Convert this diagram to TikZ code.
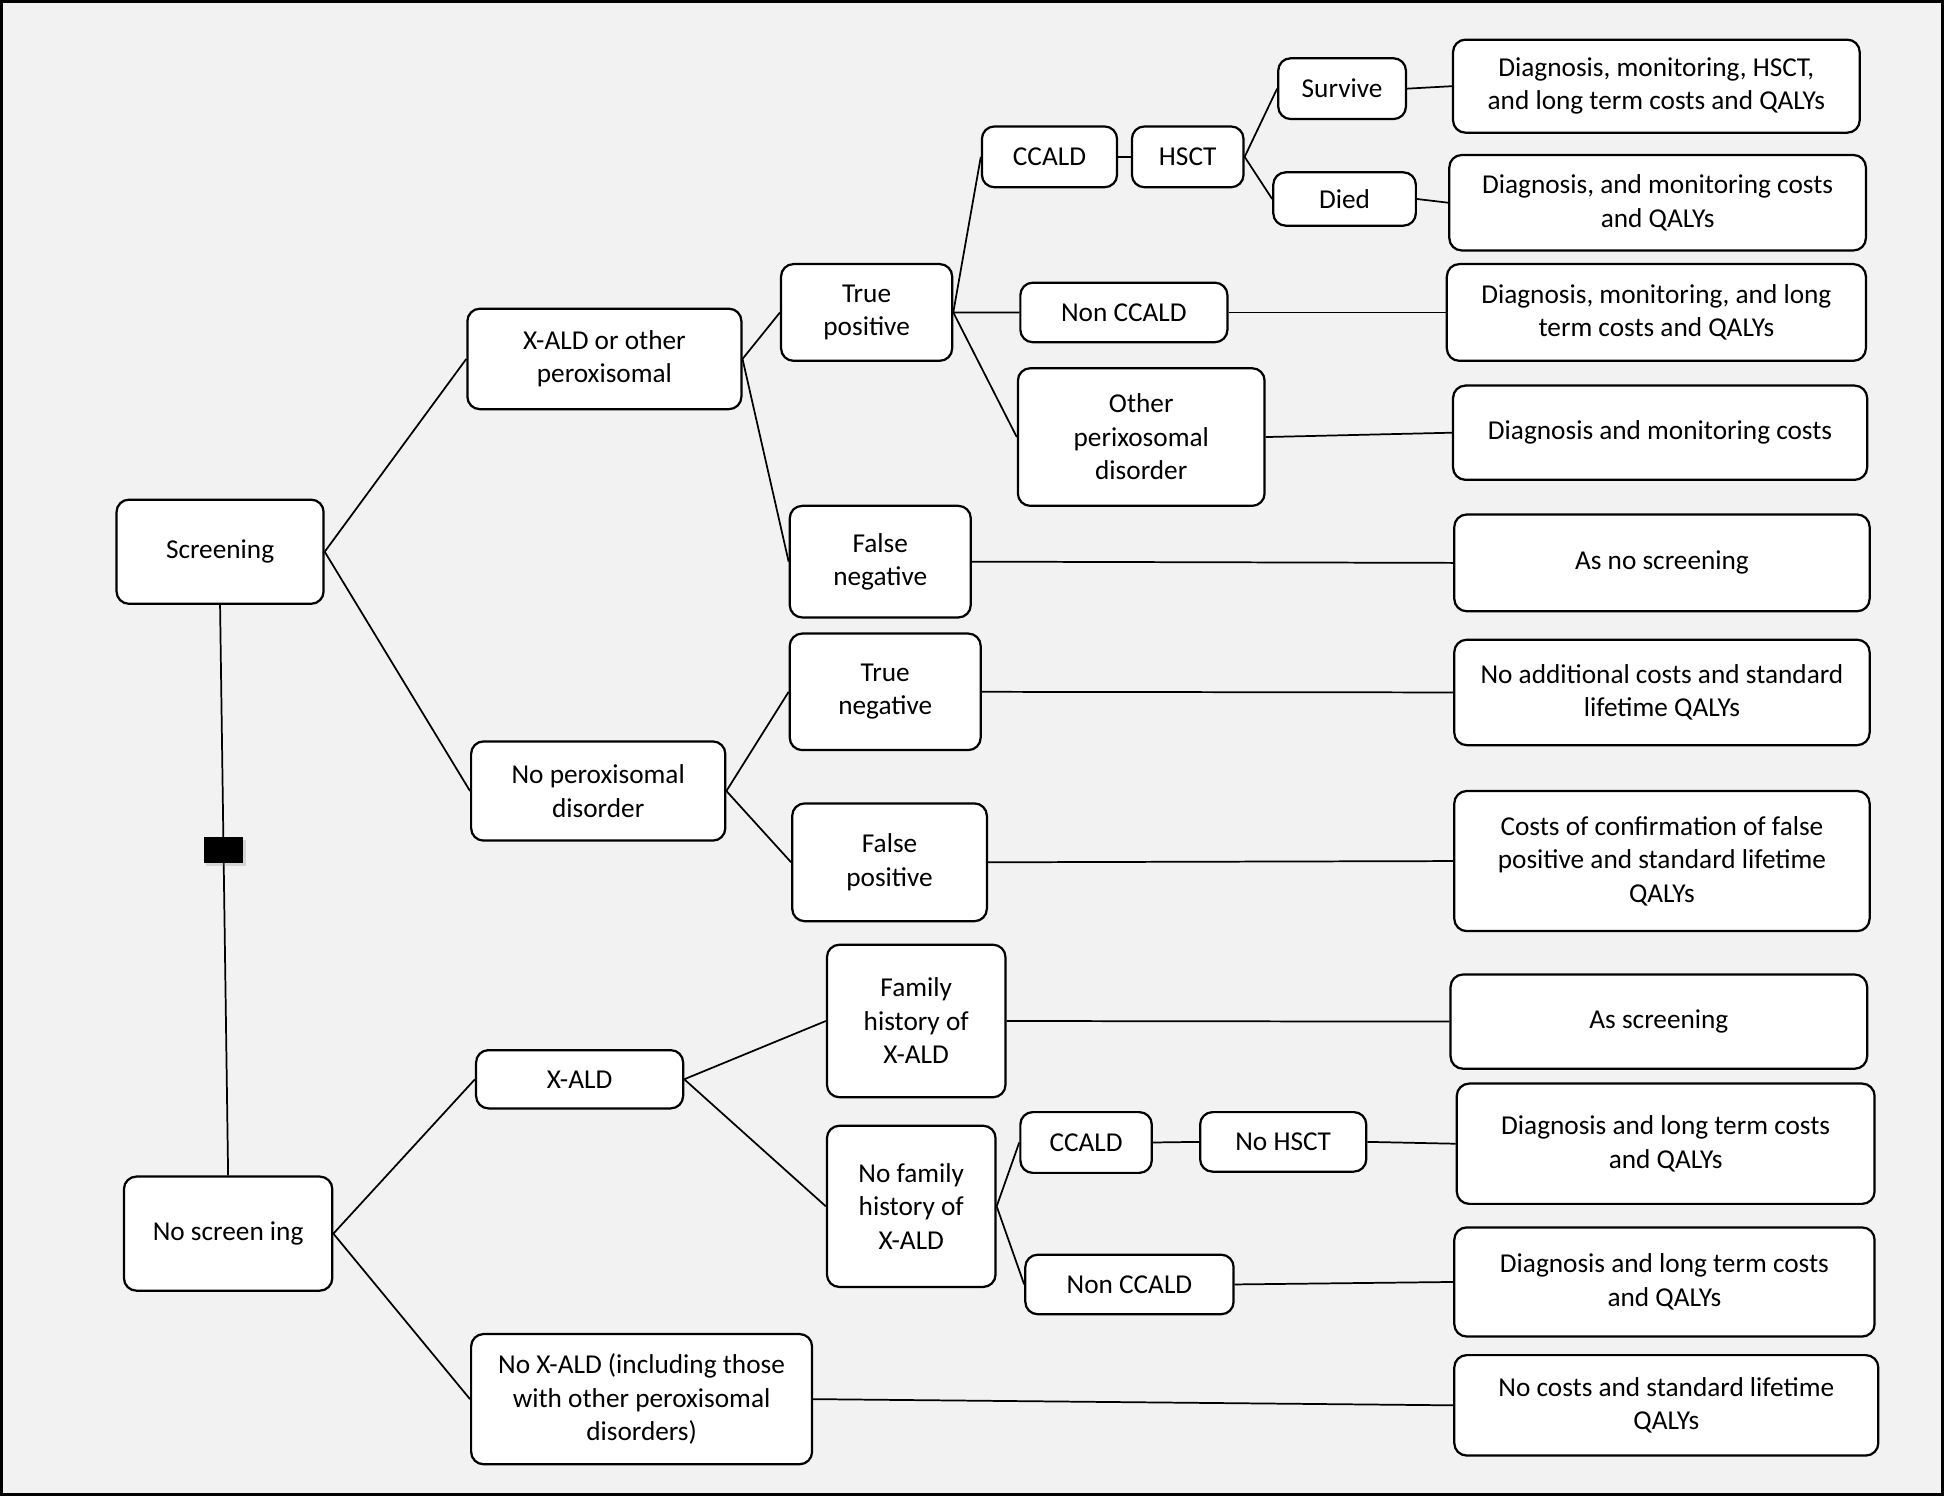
\documentclass[tikz,border=0pt]{standalone}
\usepackage{fontspec}
\setmainfont{Carlito}
\usetikzlibrary{shadows}

\begin{document}
\begin{tikzpicture}[x=0.5pt,y=-0.5pt,
    box/.style={draw, line width=0.9pt, rounded corners=5pt, fill=white, align=center,
                inner sep=2pt, font=\fontsize{11}{13.5}\selectfont},
    branch/.style={line width=0.7pt}]
                \useasboundingbox (0,0) rectangle (1568,1207);
                \draw[line width=1.4pt, fill={rgb,255:red,242;green,242;blue,242}] (1.4,1.4) rectangle (1566.6,1205.6);

                \node[box, minimum width=83.5pt, minimum height=42pt] (scr) at (177.5,445) {Screening};
                \node[box, minimum width=84pt, minimum height=46pt] (noscr) at (184,995) {No screen ing};

                \node[box, minimum width=110.5pt, minimum height=40.5pt] (xaldo) at (487.5,289.5) {X-ALD or other\\peroxisomal};
                \node[box, minimum width=102.5pt, minimum height=40pt] (noperox) at (482.5,638) {No peroxisomal\\disorder};
                \node[box, minimum width=69pt, minimum height=39pt] (tp) at (699,252) {True\\positive};
                \node[box, minimum width=73pt, minimum height=45pt] (fn) at (710,453) {False\\negative};
                \node[box, minimum width=77pt, minimum height=47pt] (tn) at (714,558) {True\\negative};
                \node[box, minimum width=78.5pt, minimum height=47.5pt] (fp) at (717.5,695.5) {False\\positive};

                \node[box, minimum width=54.5pt, minimum height=24.5pt] (ccalda) at (846.5,126.5) {CCALD};
                \node[box, minimum width=45pt, minimum height=24.5pt] (hsct) at (958,126.5) {HSCT};
                \node[box, minimum width=51.5pt, minimum height=24.5pt] (surv) at (1082.5,71.5) {Survive};
                \node[box, minimum width=57.5pt, minimum height=21.5pt] (died) at (1084.5,160.5) {Died};
                \node[box, minimum width=83.5pt, minimum height=24pt] (nonccalda) at (906.5,252) {Non CCALD};
                \node[box, minimum width=99.5pt, minimum height=55.5pt] (other) at (920.5,352.5) {Other\\perixosomal\\disorder};

                \node[box, minimum width=164pt, minimum height=37.5pt] (outa) at (1336,69.5) {Diagnosis, monitoring, HSCT,\\and long term costs and QALYs};
                \node[box, minimum width=168pt, minimum height=38.5pt] (outb) at (1337,163.5) {Diagnosis, and monitoring costs\\and QALYs};
                \node[box, minimum width=169pt, minimum height=39pt] (outc) at (1336,252) {Diagnosis, monitoring, and long\\term costs and QALYs};
                \node[box, minimum width=167pt, minimum height=38pt] (outd) at (1339,349) {Diagnosis and monitoring costs};
                \node[box, minimum width=167.5pt, minimum height=39pt] (oute) at (1340.5,454) {As no screening};
                \node[box, minimum width=167.5pt, minimum height=42.5pt] (outf) at (1340.5,558.5) {No additional costs and standard\\lifetime QALYs};
                \node[box, minimum width=167.5pt, minimum height=56.5pt] (outg) at (1340.5,694.5) {Costs of confirmation of false\\positive and  standard lifetime\\QALYs};

                \node[box, minimum width=83.5pt, minimum height=23.5pt] (xald) at (467.5,870.5) {X-ALD};
                \node[box, minimum width=137.5pt, minimum height=52.5pt] (noxald) at (517.5,1128.5) {No X-ALD (including those\\with other peroxisomal\\disorders)};
                \node[box, minimum width=72pt, minimum height=61.5pt] (fam) at (739,823.5) {Family\\history of\\X-ALD};
                \node[box, minimum width=68pt, minimum height=65pt] (nofam) at (735,973) {No family\\history of\\X-ALD};
                \node[box, minimum width=53pt, minimum height=24.5pt] (ccaldb) at (876,921.5) {CCALD};
                \node[box, minimum width=67pt, minimum height=24pt] (nohsct) at (1035,921) {No HSCT};
                \node[box, minimum width=84pt, minimum height=24pt] (nonccaldb) at (911,1036) {Non CCALD};

                \node[box, minimum width=168pt, minimum height=38pt] (outh) at (1338,824) {As screening};
                \node[box, minimum width=168.5pt, minimum height=48.5pt] (outi) at (1343.5,922.5) {Diagnosis and long term costs\\and QALYs};
                \node[box, minimum width=169.5pt, minimum height=44pt] (outj) at (1342.5,1034) {Diagnosis and long term costs\\and QALYs};
                \node[box, minimum width=171pt, minimum height=40.5pt] (outk) at (1344,1133.5) {No costs and standard lifetime\\QALYs};

                \draw[branch] (scr.south) -- (noscr.north)
                    node[pos=0.43, fill=black, minimum width=16pt, minimum height=10.5pt, inner sep=0pt,
                         drop shadow={opacity=0.25, shadow xshift=1pt, shadow yshift=-1pt}] (dec) {};

                \draw[branch] (scr.east) -- (xaldo.west) (scr.east) -- (noperox.west);
                \draw[branch] (xaldo.east) -- (tp.west) (xaldo.east) -- (fn.west);
                \draw[branch] (noperox.east) -- (tn.west) (noperox.east) -- (fp.west);
                \draw[branch] (tp.east) -- (ccalda.west) (tp.east) -- (nonccalda.west) (tp.east) -- (other.west);
                \draw[branch] (ccalda.east) -- (hsct.west);
                \draw[branch] (hsct.east) -- (surv.west) (hsct.east) -- (died.west);
                \draw[branch] (surv.east) -- (outa.west);
                \draw[branch] (died.east) -- (outb.west);
                \draw[branch] (nonccalda.east) -- (outc.west);
                \draw[branch] (other.east) -- (outd.west);
                \draw[branch] (fn.east) -- (oute.west);
                \draw[branch] (tn.east) -- (outf.west);
                \draw[branch] (fp.east) -- (outg.west);

                \draw[branch] (noscr.east) -- (xald.west) (noscr.east) -- (noxald.west);
                \draw[branch] (xald.east) -- (fam.west) (xald.east) -- (nofam.west);
                \draw[branch] (nofam.east) -- (ccaldb.west) (nofam.east) -- (nonccaldb.west);
                \draw[branch] (ccaldb.east) -- (nohsct.west);
                \draw[branch] (nohsct.east) -- (outi.west);
                \draw[branch] (nonccaldb.east) -- (outj.west);
                \draw[branch] (fam.east) -- (outh.west);
                \draw[branch] (noxald.east) -- (outk.west);
            \end{tikzpicture}
\end{document}
